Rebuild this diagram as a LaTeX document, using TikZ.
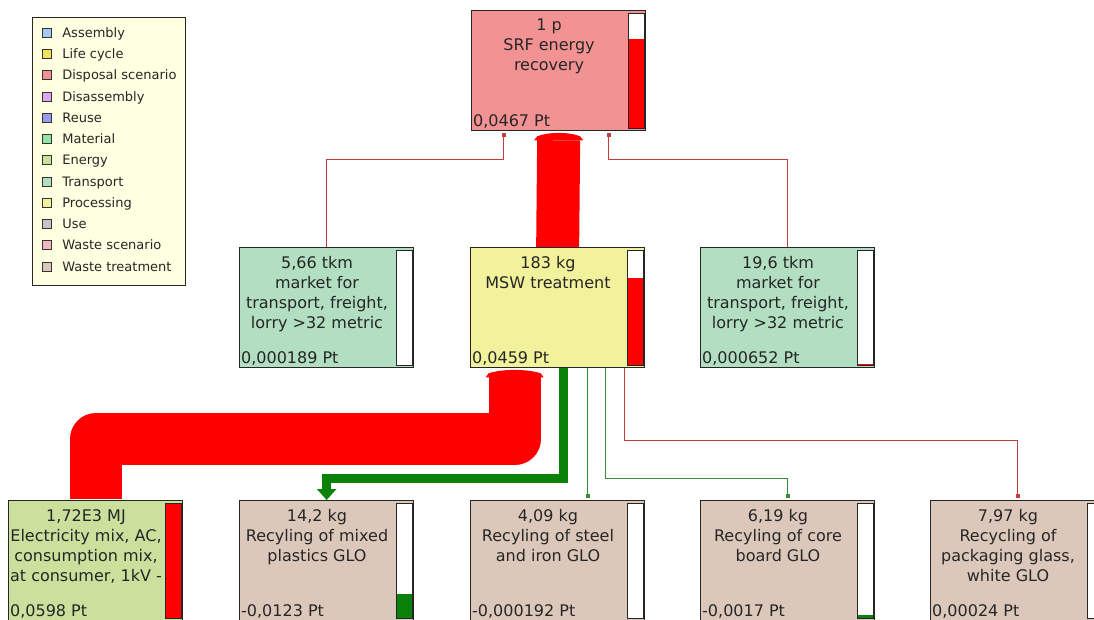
\documentclass[tikz,border=0pt]{standalone}
\usepackage{fontspec}
\setmainfont{DejaVu Sans}
\usepackage{xcolor}
\usetikzlibrary{calc,arrows.meta}
\usetikzlibrary{positioning}

\definecolor{legendbg}{HTML}{FFFFE1}
\definecolor{cAssembly}{HTML}{A6C8F2}
\definecolor{cLifecycle}{HTML}{F2E05A}
\definecolor{cDisposal}{HTML}{F29292}
\definecolor{cDisassembly}{HTML}{DDA6F2}
\definecolor{cReuse}{HTML}{9A9AF2}
\definecolor{cMaterial}{HTML}{96E2A6}
\definecolor{cEnergy}{HTML}{CBE09C}
\definecolor{cTransport}{HTML}{B2DEC2}
\definecolor{cProcessing}{HTML}{F2F29C}
\definecolor{cUse}{HTML}{C4C4C4}
\definecolor{cWasteScen}{HTML}{F2B8C4}
\definecolor{cWasteTreat}{HTML}{DCC8BA}
\definecolor{flowred}{HTML}{FF0000}
\definecolor{flowgreen}{HTML}{0A820A}
\definecolor{linkred}{HTML}{C83C3C}
\definecolor{linkgreen}{HTML}{3C8C3C}

% box with title, score and gauge: name, x, y, fill, title, score, share, gauge colour
\newcommand{\procbox}[8]{%
  \node[proc, fill=#4] (#1) at (#2,#3) {};
  \node[ptitle] at ($(#1.north west)+(78,9)$) {#5};
  \node[pscore] at ($(#1.south west)+(2,-5)$) {#6};
  \coordinate (#1-gt) at ($(#1.north east)+(-18,3)$);
  \coordinate (#1-gb) at ($(#1.south east)+(-2,-3)$);
  \fill[white] (#1-gt) rectangle (#1-gb);
  \fill[#8] ($(#1-gb)+(-16,{-114*#7})$) rectangle (#1-gb);
  \draw[gauge] (#1-gt) rectangle (#1-gb);
}
% flared head of a wide flow: end point, half width, colour
\newcommand{\flowcap}[3]{%
  \fill[#3] ($(#1)+(-#2-3,9)$) -- ($(#1)+(#2+3,9)$) -- ($(#1)+(#2,5)$)
    .. controls ($(#1)+(#2/2,0.5)$) and ($(#1)+(-#2/2,0.5)$) .. ($(#1)+(-#2,5)$) -- cycle;
}

\begin{document}
\begin{tikzpicture}[x=1pt, y=-1pt,
  proc/.style={draw=black!85, line width=1.3pt, anchor=north west,
    minimum width=174pt, minimum height=120pt, inner sep=0pt},
  ptitle/.style={anchor=north, align=center, inner sep=0pt,
    font=\fontsize{16}{20}\selectfont, text=black!85},
  pscore/.style={anchor=base west, inner sep=0pt,
    font=\fontsize{16}{20}\selectfont, text=black!85},
  gauge/.style={draw=black!85, line width=1pt},
  swatch/.style={draw=black!80, line width=0.8pt, minimum size=9.5pt, inner sep=0pt},
  keytext/.style={inner sep=0pt, text height=10pt, text depth=1pt,
    font=\fontsize{13}{15}\selectfont, text=black!85},
  thinred/.style={draw=linkred, line width=1pt, -{Square[length=4pt,width=4pt]}, shorten >=2pt},
  thingreen/.style={draw=linkgreen, line width=1pt, -{Square[length=4pt,width=4pt]}, shorten >=2pt},
  fatred/.style={draw=flowred, line join=round},
  fatgreen/.style={draw=flowgreen, line width=9pt, line join=miter,
    -{Triangle[width=19pt,length=11pt]}}
]
\useasboundingbox (0,0) rectangle (1094,619);

% ---- Legend ----
\node[draw=black!85, line width=1pt, fill=legendbg, anchor=north west,
  minimum width=153pt, minimum height=268pt] (legend) at (32,17) {};
\node[swatch, fill=cAssembly]    (kA) at (47,33)  {}; \node[keytext, right=10pt of kA] {Assembly};
\node[swatch, fill=cLifecycle]   (kB) at (47,54)  {}; \node[keytext, right=10pt of kB] {Life cycle};
\node[swatch, fill=cDisposal]    (kC) at (47,75)  {}; \node[keytext, right=10pt of kC] {Disposal scenario};
\node[swatch, fill=cDisassembly] (kD) at (47,97)  {}; \node[keytext, right=10pt of kD] {Disassembly};
\node[swatch, fill=cReuse]       (kE) at (47,118) {}; \node[keytext, right=10pt of kE] {Reuse};
\node[swatch, fill=cMaterial]    (kF) at (47,139) {}; \node[keytext, right=10pt of kF] {Material};
\node[swatch, fill=cEnergy]      (kG) at (47,160) {}; \node[keytext, right=10pt of kG] {Energy};
\node[swatch, fill=cTransport]   (kH) at (47,182) {}; \node[keytext, right=10pt of kH] {Transport};
\node[swatch, fill=cProcessing]  (kI) at (47,203) {}; \node[keytext, right=10pt of kI] {Processing};
\node[swatch, fill=cUse]         (kJ) at (47,224) {}; \node[keytext, right=10pt of kJ] {Use};
\node[swatch, fill=cWasteScen]   (kK) at (47,245) {}; \node[keytext, right=10pt of kK] {Waste scenario};
\node[swatch, fill=cWasteTreat]  (kL) at (47,267) {}; \node[keytext, right=10pt of kL] {Waste treatment};

% ---- Processes ----
\procbox{srf}{471}{10}{cDisposal}{1 p\\SRF energy\\recovery}{0,0467 Pt}{0.78}{flowred}
\procbox{tleft}{239}{247}{cTransport}{5,66 tkm\\market for\\transport, freight,\\lorry >32 metric}{0,000189 Pt}{0.003}{flowred}
\procbox{msw}{470}{247}{cProcessing}{183 kg\\MSW treatment}{0,0459 Pt}{0.77}{flowred}
\procbox{tright}{700}{247}{cTransport}{19,6 tkm\\market for\\transport, freight,\\lorry >32 metric}{0,000652 Pt}{0.011}{flowred}
\procbox{elec}{8}{500}{cEnergy}{1,72E3 MJ\\Electricity mix, AC,\\consumption mix,\\at consumer, 1kV -}{0,0598 Pt}{1}{flowred}
\procbox{plast}{239}{500}{cWasteTreat}{14,2 kg\\Recyling of mixed\\plastics GLO}{-0,0123 Pt}{0.21}{flowgreen}
\procbox{steel}{470}{500}{cWasteTreat}{4,09 kg\\Recyling of steel\\and iron GLO}{-0,000192 Pt}{0}{flowgreen}
\procbox{core}{700}{500}{cWasteTreat}{6,19 kg\\Recyling of core\\board GLO}{-0,0017 Pt}{0.028}{flowgreen}
\procbox{glass}{930}{500}{cWasteTreat}{7,97 kg\\Recycling of\\packaging glass,\\white GLO}{0,00024 Pt}{0.004}{flowred}

% ---- Flows ----
\draw[thinred] (tleft.north) -- ++(0,-88) -| ([xshift=-55pt]srf.south);
\draw[thinred] (tright.north) -- ++(0,-88) -| ([xshift=50pt]srf.south);
\draw[fatred, line width=43pt] (msw.north) -- ([yshift=-9pt]srf.south);
\flowcap{srf.south}{21.5}{flowred}

\draw[fatred, line width=52pt] ([yshift=0.7pt]elec.north) -- ++(0,-60) -| ([xshift=-43pt,yshift=-9pt]msw.south);
\flowcap{[xshift=-43pt]msw.south}{26}{flowred}
\draw[fatgreen] ([xshift=6pt]msw.south) -- ++(0,110) -| (plast.north);
\draw[thingreen] ([xshift=30pt]msw.south) -- ([xshift=30pt]steel.north);
\draw[thingreen] ([xshift=48pt]msw.south) -- ++(0,110) -| (core.north);
\draw[thinred] ([xshift=67pt]msw.south) -- ++(0,72) -| (glass.north);
\end{tikzpicture}
\end{document}
